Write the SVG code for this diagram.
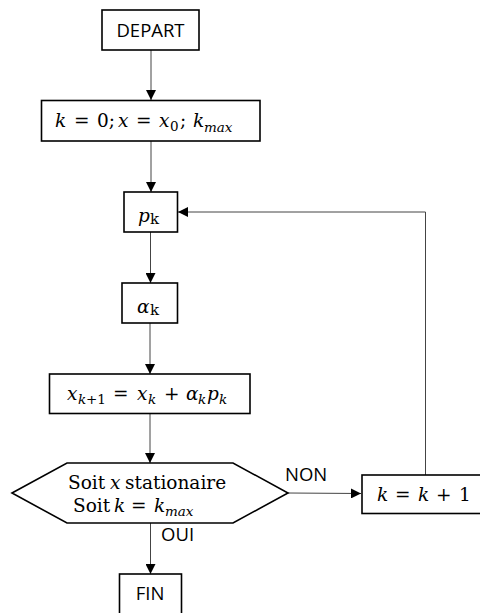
<svg xmlns="http://www.w3.org/2000/svg" width="480" height="613" viewBox="0 0 480 613">
<style>
.box{fill:#fff;stroke:#000;stroke-width:1.6}
.con{fill:none;stroke:#444;stroke-width:1}
.sans{font-family:"Open Sans","Liberation Sans",sans-serif;font-size:18.5px;fill:#000}
.m{font-family:"DejaVu Serif","Liberation Serif",serif;font-size:18.5px;fill:#000}
.i{font-style:italic}
.op{font-size:18.5px}
.s{font-size:13.5px}
</style>
<defs>
<marker id="ah" markerWidth="10" markerHeight="10" refX="10" refY="5" orient="auto" markerUnits="userSpaceOnUse">
<path d="M0,0 L10,5 L0,10 Z" fill="#000"/>
</marker>
</defs>
<rect width="480" height="613" fill="#fff"/>
<g id="connectors">
<line class="con" x1="151" y1="50" x2="151" y2="100" marker-end="url(#ah)"/>
<line class="con" x1="151" y1="141" x2="151" y2="192" marker-end="url(#ah)"/>
<line class="con" x1="150.5" y1="232" x2="150.5" y2="283" marker-end="url(#ah)"/>
<line class="con" x1="150" y1="323" x2="150" y2="374" marker-end="url(#ah)"/>
<line class="con" x1="150" y1="414" x2="150" y2="463" marker-end="url(#ah)"/>
<line class="con" x1="150.5" y1="523" x2="150.5" y2="574" marker-end="url(#ah)"/>
<line class="con" x1="288" y1="493" x2="361" y2="493.5" marker-end="url(#ah)"/>
<polyline class="con" points="425.5,475 425.5,212 178,212" marker-end="url(#ah)"/>
<text class="sans" x="285" y="481">NON</text>
<text class="sans" x="161" y="541">OUI</text>
</g>
<g id="depart">
<rect class="box" x="102" y="10" width="97" height="40"/>
<text class="sans" x="150.5" y="37" text-anchor="middle">DEPART</text>
</g>
<g id="init">
<rect class="box" x="41.5" y="100.5" width="218.5" height="40.5"/>
<text class="m" y="127"><tspan class="i" x="55">k</tspan><tspan class="op" x="74">=</tspan><tspan x="97">0;</tspan><tspan class="i" x="118">x</tspan><tspan class="op" x="136">=</tspan><tspan class="i" x="159">x</tspan><tspan class="s" x="170" dy="4">0</tspan><tspan x="180" dy="-4">;</tspan><tspan class="i" x="193">k</tspan><tspan class="i s" x="204" dy="5">max</tspan></text>
</g>
<g id="pk">
<rect class="box" x="124" y="192" width="53.5" height="40"/>
<text class="m" y="221.5"><tspan class="i" x="138">p</tspan><tspan font-size="15" x="150" dy="2">k</tspan></text>
</g>
<g id="alphak">
<rect class="box" x="122" y="283" width="55.5" height="40"/>
<text class="m" y="313"><tspan class="i" x="137">α</tspan><tspan font-size="15" x="150" dy="2">k</tspan></text>
</g>
<g id="update">
<rect class="box" x="49.5" y="374" width="200.5" height="39.5"/>
<text class="m" y="400"><tspan class="i" x="67">x</tspan><tspan class="i s" x="78" dy="4">k</tspan><tspan class="s" x="86">+1</tspan><tspan class="op" x="113" dy="-4">=</tspan><tspan class="i" x="137">x</tspan><tspan class="i s" x="148" dy="4">k</tspan><tspan class="op" x="164" dy="-4">+</tspan><tspan class="i" x="186">α</tspan><tspan class="i s" x="198" dy="4">k</tspan><tspan class="i" x="207" dy="-4">p</tspan><tspan class="i s" x="219" dy="4">k</tspan></text>
</g>
<g id="test">
<polygon class="box" points="12,493 67,463 233,463 288,493 233,523 67,523"/>
<text class="m" y="489"><tspan x="68">Soit</tspan><tspan class="i" x="110">x</tspan><tspan x="125">stationaire</tspan></text>
<text class="m" y="512"><tspan x="73">Soit</tspan><tspan class="i" x="114">k</tspan><tspan class="op" x="131">=</tspan><tspan class="i" x="154">k</tspan><tspan class="i s" x="165" dy="4">max</tspan></text>
</g>
<g id="incr">
<rect class="box" x="362" y="475" width="120" height="38.5"/>
<text class="m" y="501"><tspan class="i" x="377">k</tspan><tspan class="op" x="395">=</tspan><tspan class="i" x="418">k</tspan><tspan class="op" x="436">+</tspan><tspan x="459">1</tspan></text>
</g>
<g id="fin">
<rect class="box" x="119.5" y="574" width="62" height="45"/>
<text class="sans" x="150" y="600" text-anchor="middle">FIN</text>
</g>
</svg>
